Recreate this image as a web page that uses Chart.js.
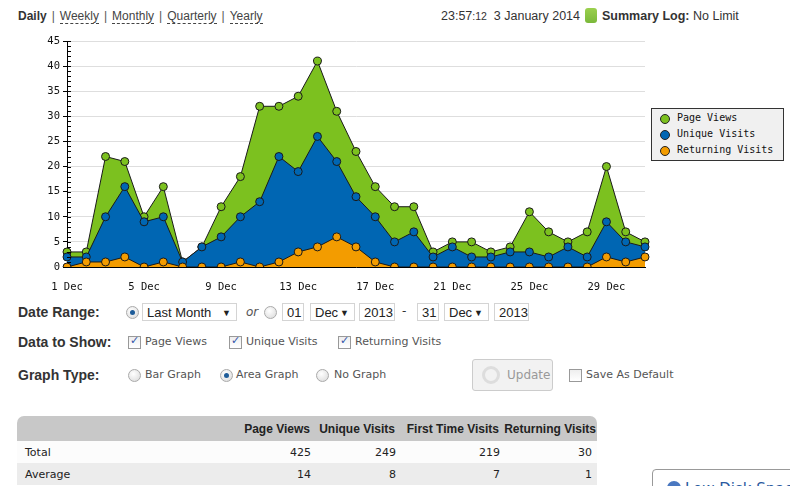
<!DOCTYPE html>
<html>
<head>
<meta charset="utf-8">
<script src="https://cdn.jsdelivr.net/npm/chart.js@4.4.1/dist/chart.umd.min.js"></script>
<style>
  body { margin: 0; width: 790px; height: 486px; overflow: hidden; position: relative; background: #fff; color: #333; font-family: "DejaVu Sans", Verdana, sans-serif; }
  .abs { position: absolute; white-space: nowrap; }
  .hdr { font-family: "Liberation Sans", Arial, sans-serif; font-size: 12px; line-height: 14px; }
  .hdr a { color: #444; text-decoration: none; border-bottom: 1px dashed #444; }
  .hdr .sep { color: #555; margin: 0 5px; }
  .lbl { font-family: "Liberation Sans", Arial, sans-serif; font-weight: bold; font-size: 14px; color: #333; }
  .opt { font-size: 11px; color: #555; }
  .box { position: absolute; height: 18px; border: 1px solid #d4d4d4; background: #fff; font-family: "Liberation Sans", Arial, sans-serif; font-size: 13px; line-height: 18px; color: #222; padding-left: 4px; box-sizing: border-box; }
  .box .arr { position: absolute; right: 5px; top: 0; font-size: 9px; }
  .radio { position: absolute; width: 11px; height: 11px; border-radius: 50%; border: 1px solid #aaa; background: radial-gradient(circle at 40% 35%, #fff, #d8d8d8); }
  .radio.on::after { content: ""; position: absolute; left: 3px; top: 3px; width: 5px; height: 5px; border-radius: 50%; background: #1e5c99; }
  .chk { position: absolute; width: 11px; height: 11px; border: 1px solid #999; background: linear-gradient(#eee, #fff); }
  .chk.on::after { content: "\2713"; position: absolute; left: 1px; top: -3px; font-size: 11px; color: #3355aa; font-weight: bold; }
  #legend { position: absolute; left: 651px; top: 108px; width: 133px; height: 53px; border: 1px solid #333; background: #f0f0f0; box-sizing: border-box; font-family: "DejaVu Sans Mono", monospace; font-size: 10px; color: #111; }
  #legend div { position: absolute; left: 25px; }
  #legend span { position: absolute; left: -17px; top: 2px; width: 8px; height: 8px; border-radius: 50%; border: 1px solid #222; }
  table { position: absolute; left: 17px; top: 416px; width: 580px; border-collapse: collapse; font-size: 11px; }
  th { background: #c8c8c8; font-family: "Liberation Sans", Arial, sans-serif; font-size: 12px; color: #222; height: 25px; text-align: right; padding: 0 1px 0 0; }
  th:first-child { border-top-left-radius: 7px; }
  th:last-child { border-top-right-radius: 7px; }
  td { height: 22px; text-align: right; color: #222; padding: 0; }
  td:first-child { text-align: left; padding-left: 8px; }
  tr.r1 td { background: #fcfcfc; }
  tr.r2 td { background: #ececec; }
</style>
</head>
<body>

<div class="abs hdr" style="left:18px; top:9px;"><b style="color:#333">Daily</b><span class="sep">|</span><a>Weekly</a><span class="sep">|</span><a>Monthly</a><span class="sep">|</span><a>Quarterly</a><span class="sep">|</span><a>Yearly</a></div>
<div class="abs hdr" style="left:441px; top:9px; font-size:12.5px; color:#333;">23:57<span style="font-size:10.5px">:12</span>&nbsp; 3 January 2014</div>
<div class="abs" style="left:585px; top:8px; width:12px; height:15px; border-radius:3px; background:linear-gradient(#9bd04e,#7ab83a);"></div>
<div class="abs hdr" style="left:602px; top:9px; font-size:12.5px; color:#333;"><b>Summary Log:</b> No Limit</div>

<div class="abs" style="left:0; top:31px; width:660px; height:265px;"><canvas id="chart"></canvas></div>
<div id="legend"></div>

<!-- form -->
<div class="abs lbl" style="left:18px; top:304px;">Date Range:</div>
<div class="radio on" style="left:126px; top:306px;"></div>
<div class="box" style="left:142px; top:303px; width:95px;">Last Month<span class="arr">&#9660;</span></div>
<div class="abs" style="left:246px; top:305px; font-size:12px; font-style:italic; color:#555;">or</div>
<div class="radio" style="left:264px; top:306px;"></div>
<div class="box" style="left:282px; top:303px; width:22px;">01</div>
<div class="box" style="left:310px; top:303px; width:45px;">Dec<span class="arr">&#9660;</span></div>
<div class="box" style="left:359px; top:303px; width:36px;">2013</div>
<div class="abs" style="left:402px; top:304px; font-size:12px;">-</div>
<div class="box" style="left:417px; top:303px; width:22px;">31</div>
<div class="box" style="left:444px; top:303px; width:45px;">Dec<span class="arr">&#9660;</span></div>
<div class="box" style="left:494px; top:303px; width:35px;">2013</div>

<div class="abs lbl" style="left:18px; top:334px;">Data to Show:</div>
<div class="chk on" style="left:128px; top:336px;"></div>
<div class="abs opt" style="left:145px; top:335px;">Page Views</div>
<div class="chk on" style="left:229px; top:336px;"></div>
<div class="abs opt" style="left:246px; top:335px;">Unique Visits</div>
<div class="chk on" style="left:338px; top:336px;"></div>
<div class="abs opt" style="left:355px; top:335px;">Returning Visits</div>

<div class="abs lbl" style="left:18px; top:367px;">Graph Type:</div>
<div class="radio" style="left:128px; top:369px;"></div>
<div class="abs opt" style="left:145px; top:368px;">Bar Graph</div>
<div class="radio on" style="left:220px; top:369px;"></div>
<div class="abs opt" style="left:236px; top:368px;">Area Graph</div>
<div class="radio" style="left:316px; top:369px;"></div>
<div class="abs opt" style="left:334px; top:368px;">No Graph</div>
<div class="abs" style="left:472px; top:359px; width:81px; height:32px; border:1px solid #ccc; border-radius:3px; background:#f2f2f2; box-sizing:border-box;">
  <div class="abs" style="left:9px; top:6px; width:18px; height:18px; border-radius:50%; border:3px solid #ddd; box-sizing:border-box;"></div>
  <div class="abs" style="left:34px; top:8px; font-size:12px; color:#999;">Update</div>
</div>
<div class="chk" style="left:569px; top:369px;"></div>
<div class="abs opt" style="left:586px; top:368px;">Save As Default</div>

<table>
  <tr><th style="width:220px"></th><th style="width:72px">Page Views</th><th style="width:84px">Unique Visits</th><th style="width:103px">First Time Visits</th><th>Returning Visits</th></tr>
  <tr class="r1"><td>Total</td><td id="tPV"></td><td id="tUV"></td><td id="tFT"></td><td id="tRV" style="padding-right:5px"></td></tr>
  <tr class="r2"><td>Average</td><td id="aPV"></td><td id="aUV"></td><td id="aFT"></td><td id="aRV" style="padding-right:5px"></td></tr>
</table>

<div class="abs" style="left:652px; top:469px; width:160px; height:40px; border:1px solid #999; border-radius:4px; background:#fff;">
  <div class="abs" style="left:14px; top:11px; width:14px; height:14px; border-radius:50%; background:#4a78c0;"></div>
  <div class="abs" style="left:32px; top:10px; font-size:15px; color:#2a5aa0;">Low Disk Space</div>
</div>

<script>
var days = [];
for (var d = 1; d <= 31; d++) days.push(d + ' Dec');

var pageViews      = [3, 3, 22, 21, 10, 16, 1, 4, 12, 18, 32, 32, 34, 41, 31, 23, 16, 12, 12, 3, 5, 5, 3, 4, 11, 7, 5, 7, 20, 7, 5];
var uniqueVisits   = [2, 2, 10, 16, 9, 10, 1, 4, 6, 10, 13, 22, 19, 26, 21, 14, 10, 5, 7, 2, 4, 2, 2, 3, 3, 2, 4, 2, 9, 5, 4];
var returningVisits = [0, 1, 1, 2, 0, 1, 0, 0, 0, 1, 0, 1, 3, 4, 6, 4, 1, 0, 0, 0, 0, 0, 0, 0, 0, 0, 0, 0, 2, 1, 2];
var firstTimeTotal = 219;

var seriesNames = ['Page Views', 'Unique Visits', 'Returning Visits'];
var seriesColors = ['#7cc11f', '#0066b3', '#f39c00'];
var seriesData = [pageViews, uniqueVisits, returningVisits];

var yTicks = [0, 5, 10, 15, 20, 25, 30, 35, 40, 45];

// legend box
var legend = document.getElementById('legend');
seriesNames.forEach(function(name, i) {
  var row = document.createElement('div');
  row.style.top = (3 + i * 16) + 'px';
  row.innerHTML = '<span style="background:' + seriesColors[i] + '"></span>' + name;
  legend.appendChild(row);
});

// summary table
function sum(a) { return a.reduce(function(s, v) { return s + v; }, 0); }
var nDays = days.length;
document.getElementById('tPV').textContent = sum(pageViews);
document.getElementById('tUV').textContent = sum(uniqueVisits);
document.getElementById('tFT').textContent = firstTimeTotal;
document.getElementById('tRV').textContent = sum(returningVisits);
document.getElementById('aPV').textContent = Math.round(sum(pageViews) / nDays);
document.getElementById('aUV').textContent = Math.round(sum(uniqueVisits) / nDays);
document.getElementById('aFT').textContent = Math.round(firstTimeTotal / nDays);
document.getElementById('aRV').textContent = Math.round(sum(returningVisits) / nDays);

var monoFont = { family: '"DejaVu Sans Mono", monospace', size: 10.5 };

// small unit ticks on the inside of the y axis
var minorTicks = {
  id: 'minorTicks',
  afterDraw: function(chart) {
    var y = chart.scales.y, ctx = chart.ctx;
    ctx.save();
    ctx.strokeStyle = '#000';
    ctx.lineWidth = 1;
    for (var v = y.min; v <= y.max; v++) {
      var py = Math.round(y.getPixelForValue(v)) + 0.5;
      ctx.beginPath();
      ctx.moveTo(y.right, py);
      ctx.lineTo(y.right + 4, py);
      ctx.stroke();
    }
    ctx.restore();
  }
};

var datasets = seriesData.map(function(data, i) {
  return {
    label: seriesNames[i],
    data: data,
    order: seriesData.length - i,
    fill: 'origin',
    backgroundColor: seriesColors[i],
    borderColor: '#1a1a1a',
    borderWidth: 1,
    tension: 0,
    pointRadius: 4,
    pointBackgroundColor: seriesColors[i],
    pointBorderColor: '#1a1a1a',
    pointBorderWidth: 1
  };
});

new Chart(document.getElementById('chart'), {
  type: 'line',
  data: { labels: days, datasets: datasets },
  plugins: [minorTicks],
  options: {
    responsive: true,
    maintainAspectRatio: false,
    animation: false,
    layout: { padding: { top: 10, right: 15, left: 0, bottom: 0 } },
    plugins: { legend: { display: false }, tooltip: { enabled: false } },
    scales: {
      x: {
        grid: { display: false },
        border: { display: true, color: '#000' },
        ticks: {
          autoSkip: false, maxRotation: 0, font: monoFont, color: '#111', padding: 6,
          callback: function(v, i) { return i % 4 === 0 ? this.getLabelForValue(v) : ''; }
        },
        afterFit: function(s) { s.height = 29; }
      },
      y: {
        min: yTicks[0],
        max: yTicks[yTicks.length - 1],
        grid: { color: '#dedede', tickColor: '#000', tickLength: 4 },
        border: { display: true, color: '#000' },
        ticks: { stepSize: yTicks[1] - yTicks[0], font: monoFont, color: '#111', padding: 3 },
        afterFit: function(s) { s.width = 67; }
      }
    }
  }
});
</script>
</body>
</html>
